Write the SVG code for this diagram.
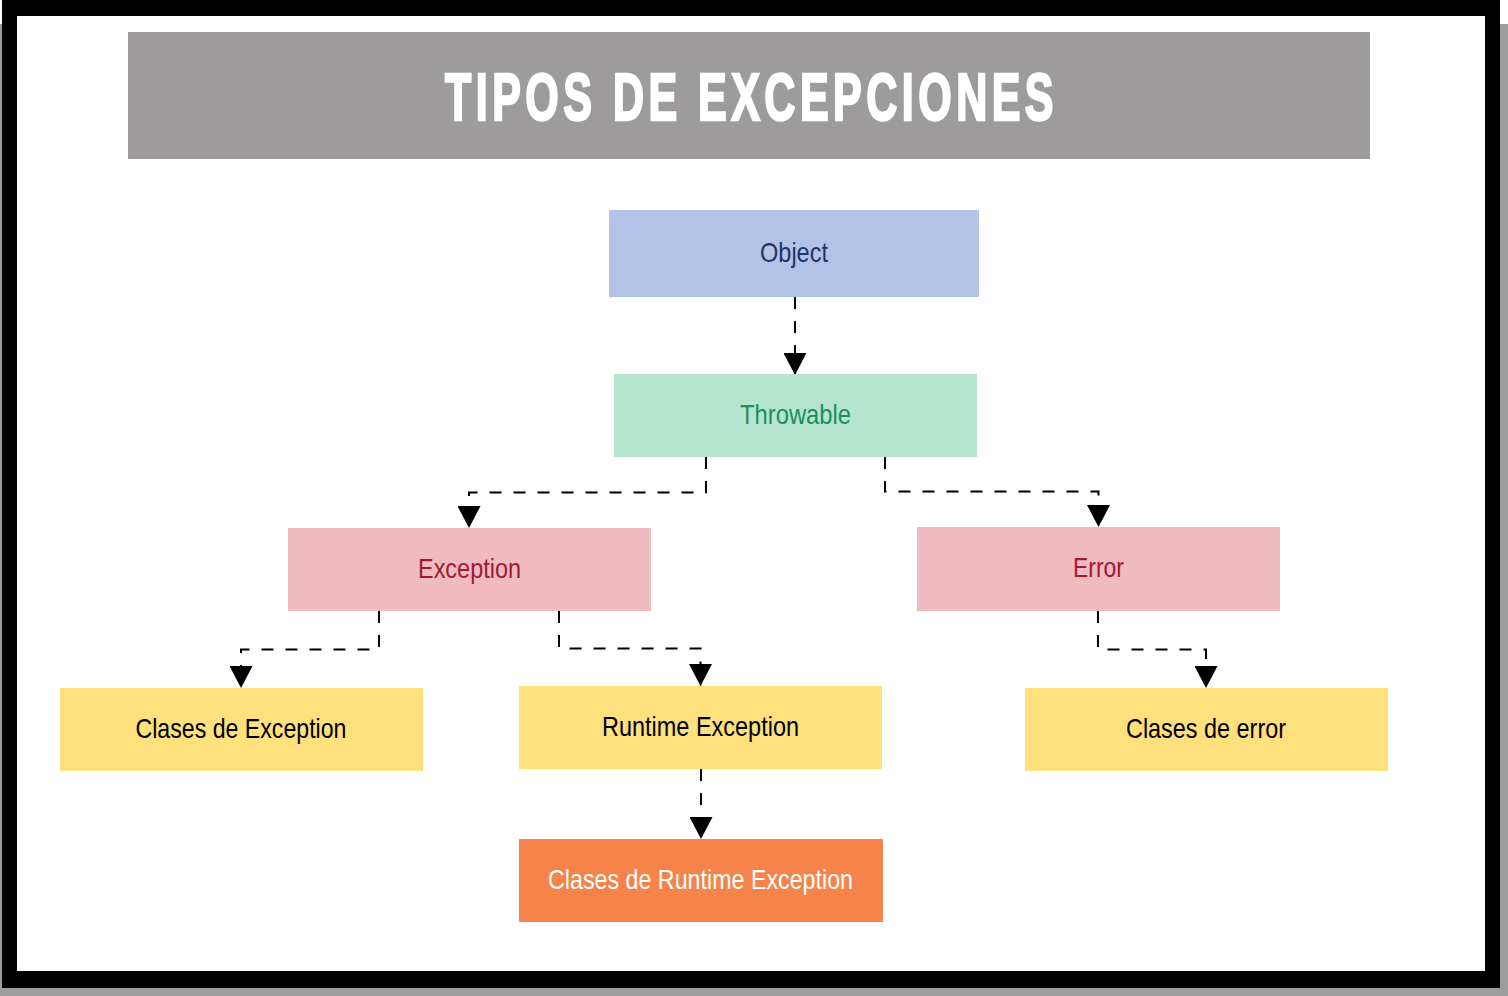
<svg xmlns="http://www.w3.org/2000/svg" width="1508" height="996" viewBox="0 0 1508 996">
  <defs>
    <style>
      .box { stroke: none; }
      .lbl { font-family: "Liberation Sans", Arial, sans-serif; font-size: 28px; text-anchor: middle; }
      .conn { fill: none; stroke: #000; stroke-width: 2; stroke-dasharray: 12 12; }
    </style>
    <marker id="arrow" viewBox="0 0 22 23" refX="22" refY="11.5" markerWidth="22" markerHeight="23" markerUnits="userSpaceOnUse" orient="auto">
      <path d="M0,0 L22,11.5 L0,23 z" fill="#000"/>
    </marker>
  </defs>

  <g id="frame">
    <rect x="0" y="24" width="1508" height="972" fill="#9d9d9d"/>
    <rect x="2" y="0" width="1498" height="988" fill="#000"/>
    <rect x="17" y="16" width="1468" height="955" fill="#fff"/>
  </g>

  <g id="title">
    <rect x="128" y="32" width="1242" height="127" fill="#9d9b9b"/>
    <text x="751.5" y="120" font-family="'Liberation Sans', Arial, sans-serif" font-size="67" font-weight="bold" fill="#fff" stroke="#fff" stroke-width="2.5" letter-spacing="7" text-anchor="middle" textLength="613" lengthAdjust="spacingAndGlyphs">TIPOS DE EXCEPCIONES</text>
  </g>

  <g id="connectors">
    <path class="conn" d="M795 297 V375" marker-end="url(#arrow)"/>
    <path class="conn" d="M706 457 V492.5 H469 V528" marker-end="url(#arrow)"/>
    <path class="conn" d="M885 457 V491.5 H1098.5 V527" marker-end="url(#arrow)"/>
    <path class="conn" d="M379 611 V649.5 H241 V688" marker-end="url(#arrow)"/>
    <path class="conn" d="M559 611 V648.5 H700.5 V686" marker-end="url(#arrow)"/>
    <path class="conn" d="M1098 611 V649.5 H1206 V688" marker-end="url(#arrow)"/>
    <path class="conn" d="M701 769 V839" marker-end="url(#arrow)"/>
  </g>

  <g id="node-object">
    <rect class="box" x="609" y="210" width="370" height="87" fill="#b3c3e7"/>
    <text class="lbl" x="794" y="262" fill="#1c3466" textLength="68" lengthAdjust="spacingAndGlyphs">Object</text>
  </g>

  <g id="node-throwable">
    <rect class="box" x="614" y="374" width="363" height="83" fill="#b5e5cf"/>
    <text class="lbl" x="795.5" y="424" fill="#1a8f5c" textLength="111" lengthAdjust="spacingAndGlyphs">Throwable</text>
  </g>

  <g id="node-exception">
    <rect class="box" x="288" y="528" width="363" height="83" fill="#f1b9c0"/>
    <text class="lbl" x="469.5" y="578" fill="#9e1b32" textLength="103" lengthAdjust="spacingAndGlyphs">Exception</text>
  </g>

  <g id="node-error">
    <rect class="box" x="917" y="527" width="363" height="84" fill="#f1b9c0"/>
    <text class="lbl" x="1098.5" y="577" fill="#9e1b32" textLength="51" lengthAdjust="spacingAndGlyphs">Error</text>
  </g>

  <g id="node-clases-exception">
    <rect class="box" x="60" y="688" width="363" height="83" fill="#fee07d"/>
    <text class="lbl" x="241" y="738" fill="#000" textLength="211" lengthAdjust="spacingAndGlyphs">Clases de Exception</text>
  </g>

  <g id="node-runtime-exception">
    <rect class="box" x="519" y="686" width="363" height="83" fill="#fee07d"/>
    <text class="lbl" x="700.5" y="736" fill="#000" textLength="197" lengthAdjust="spacingAndGlyphs">Runtime Exception</text>
  </g>

  <g id="node-clases-error">
    <rect class="box" x="1025" y="688" width="363" height="83" fill="#fee07d"/>
    <text class="lbl" x="1206" y="738" fill="#000" textLength="160" lengthAdjust="spacingAndGlyphs">Clases de error</text>
  </g>

  <g id="node-clases-runtime">
    <rect class="box" x="519" y="839" width="364" height="83" fill="#f6844a"/>
    <text class="lbl" x="700.5" y="889" fill="#fff" textLength="305" lengthAdjust="spacingAndGlyphs">Clases de Runtime Exception</text>
  </g>
</svg>
